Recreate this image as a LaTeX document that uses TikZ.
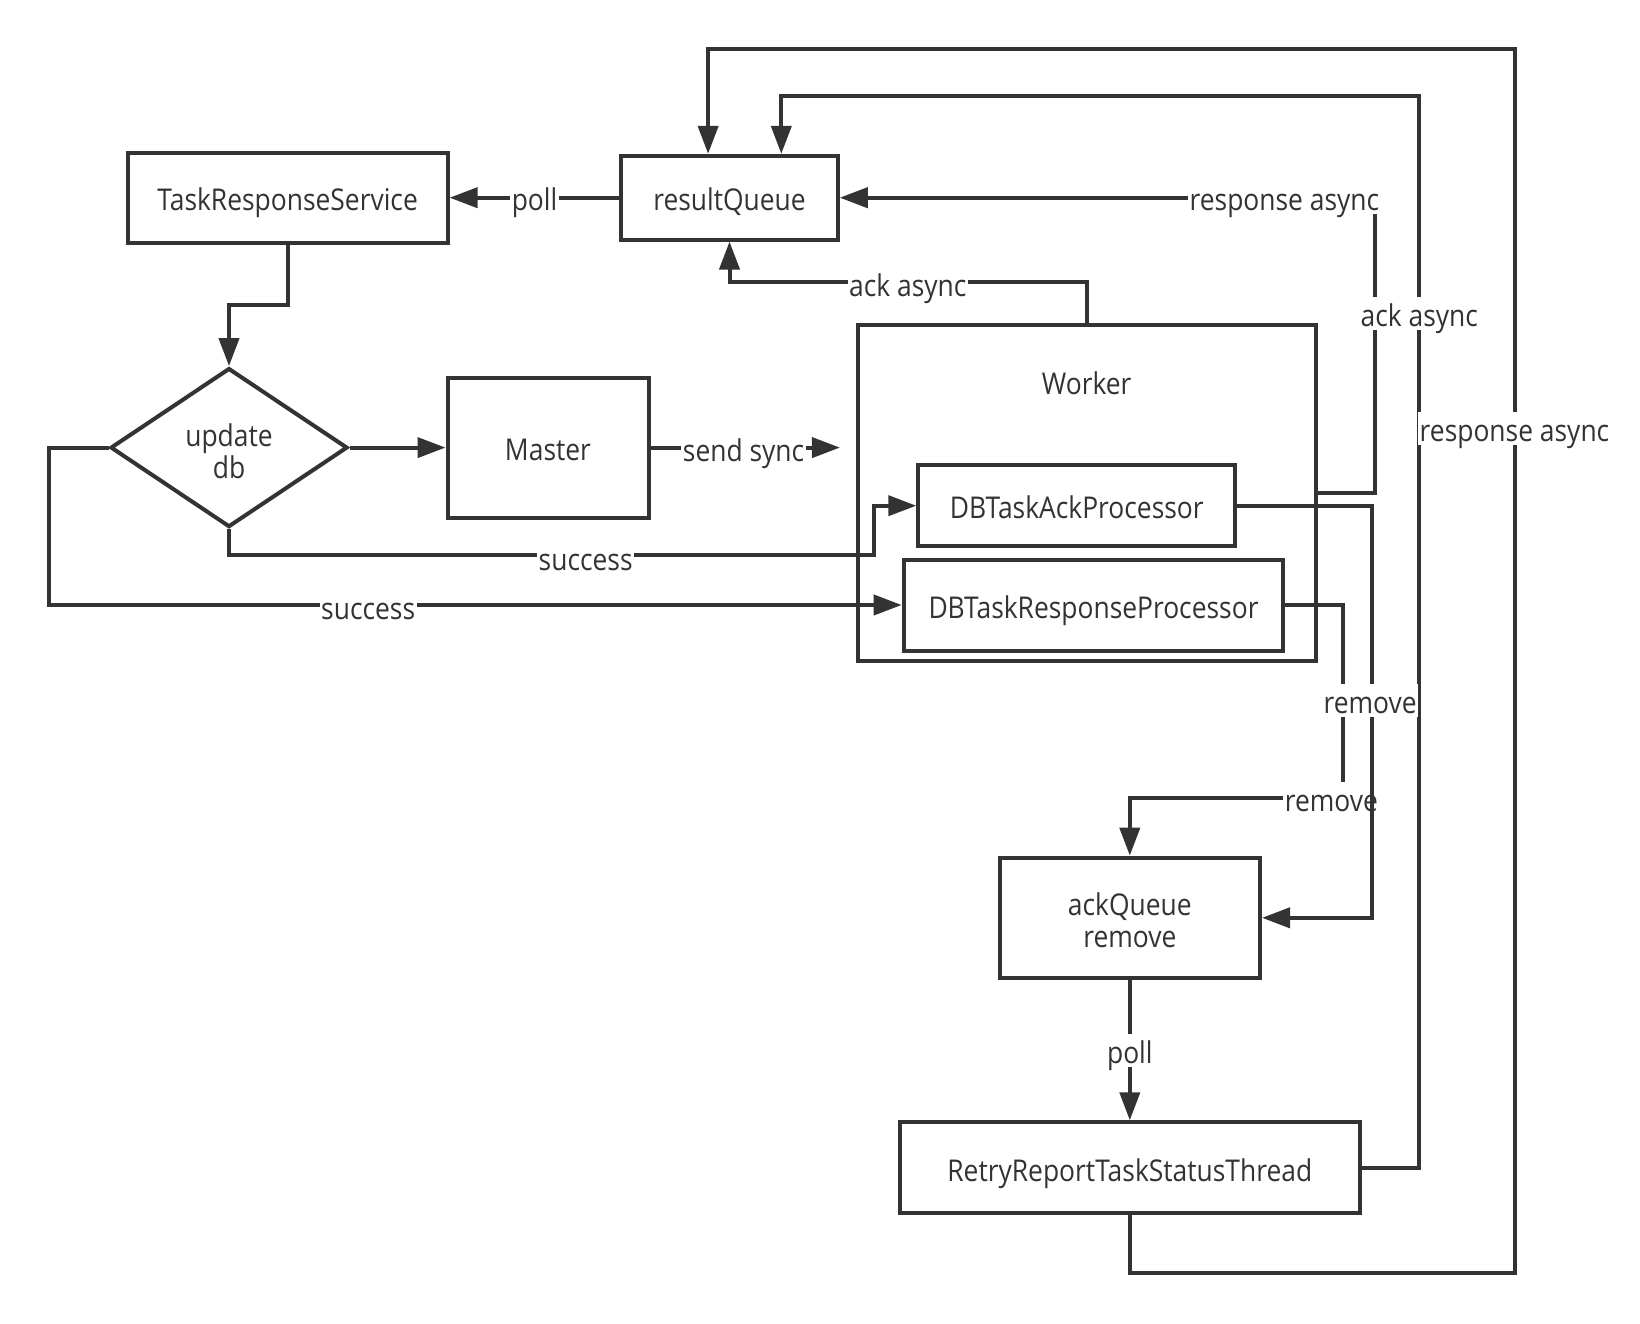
\documentclass[tikz,border=0pt]{standalone}
\usepackage{fontspec}
\setmainfont{Open Sans}[FakeStretch=0.88]
\usetikzlibrary{arrows.meta,shapes.geometric}
\definecolor{ink}{HTML}{333333}
\begin{document}
\begin{tikzpicture}[x=1pt,y=-1pt,
  every node/.style={font=\fontsize{30}{32}\selectfont, text=ink},
  one/.style={text height=28.5pt, text depth=2pt},
  box/.style={draw=ink, line width=4pt, rectangle, inner sep=0pt},
  arr/.style={draw=ink, line width=4pt, -{Triangle[length=28pt,width=20pt]}},
  lbl/.style={one, fill=white, inner sep=1.5pt},
]
\useasboundingbox (0,0) rectangle (1640,1324);
\node[box, one, minimum width=320pt, minimum height=90pt] (trs) at (287.6,197.7) {TaskResponseService};
\node[box, one, minimum width=216.5pt, minimum height=83.7pt] (rq) at (729.5,197.7) {resultQueue};
\node[box, minimum width=458pt, minimum height=336pt] (wk) at (1086.7,493.1) {};
\node[one] (wkl) at (1086.7,381) {Worker};
\node[box, one, minimum width=201pt, minimum height=140pt] (ms) at (548,447.6) {Master};
\node[draw=ink, line width=4pt, diamond, minimum width=237pt, minimum height=159pt, inner sep=0pt] (db) at (229,447.6) {};
\node[align=center] (dbt) at ([yshift=-3.5pt]db.center) {update\\db};
\node[box, one, minimum width=317pt, minimum height=80.5pt] (ack) at (1076.8,505.7) {DBTaskAckProcessor};
\node[box, one, minimum width=379.6pt, minimum height=91pt] (rsp) at (1093.5,605) {DBTaskResponseProcessor};
\node[box, minimum width=260.4pt, minimum height=120.3pt] (aq) at (1129.8,917.8) {};
\node[align=center] (aqt) at ([yshift=-2.5pt]aq.center) {ackQueue\\remove};
\node[box, one, minimum width=460pt, minimum height=91pt] (rrt) at (1129.8,1167.8) {RetryReportTaskStatusThread};

\coordinate (o1) at (1514.5,1272.9);
\coordinate (o2) at (708.1,49.2);
\coordinate (p1) at (1419.3,96.2);
\coordinate (p2) at (781.3,96.2);
\coordinate (q1) at (1375.4,197.7);
\coordinate (r1) at (0,282.4);
\coordinate (s1) at (0,305.4);
\coordinate (ss) at (839.9,447.6);
\coordinate (t1) at (874.4,555.4);
\coordinate (u1) at (49.2,605);
\coordinate (v1) at (1372.2,700);
\coordinate (w1) at (1343,798);

\draw[arr] (rq.west) -- (trs.east);
\draw[arr] (rrt.south) |- (o1) |- (o2) -- (o2 |- rq.north);
\draw[arr] (rrt.east) -| (p1) -- (p2) -- (p2 |- rq.north);
\draw[arr] (wk.east) -| (q1) -- (rq.east);
\draw[arr] (wk.north) |- (rq.south |- r1) -- (rq.south);
\draw[arr] (trs.south) |- (db.north |- s1) -- (db.north);
\draw[arr] (db.east) -- (ms.west);
\draw[arr] (ms.east) -- (ss);
\draw[arr] (db.south) |- (t1) |- (ack.west);
\draw[arr] (db.west) -| (u1) |- (rsp.west);
\draw[arr] (rsp.east) -| (w1) -| (aq.north);
\node[lbl] (l10) at (1331.4,798.7) {remove};
\draw[arr] (ack.east) -| (v1) |- (aq.east);
\draw[arr] (aq.south) -- (rrt.north);

\node[lbl] (l1) at (534.5,197.3) {poll};
\node[lbl] (l2) at (1284.4,197.3) {response async};
\node[lbl] (l3) at (907.8,283) {ack async};
\node[lbl] (l4) at (1419.3,313.4) {ack async};
\node[lbl] (l5) at (1514.5,428.4) {response async};
\node[lbl] (l6) at (743.6,448.3) {send sync};
\node[lbl] (l7) at (585.7,557.1) {success};
\node[lbl] (l8) at (368.2,606.2) {success};
\node[lbl] (l9) at (1370.1,700.3) {remove};
\node[lbl] (l11) at (1129.8,1050.7) {poll};
\end{tikzpicture}
\end{document}
